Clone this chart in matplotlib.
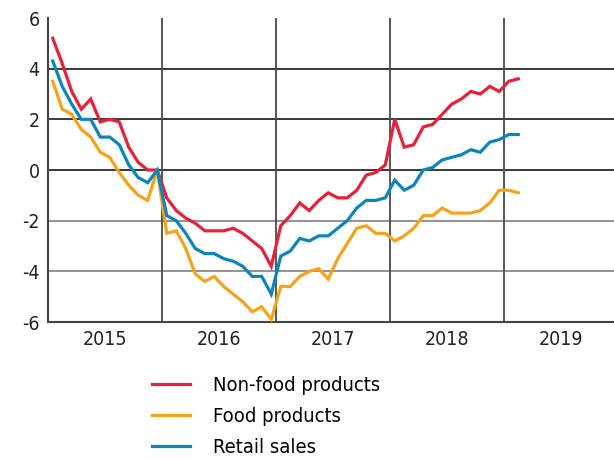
import numpy as np
import matplotlib
matplotlib.use("Agg")
import matplotlib.pyplot as plt

# Monthly data, Jan 2015 - Feb 2019 (annual % change)
years = ['2015', '2016', '2017', '2018', '2019']

non_food = [5.2, 4.2, 3.1, 2.4, 2.8, 1.9, 2.0, 1.9, 0.9, 0.3, 0.0, 0.0,
            -1.1, -1.6, -1.9, -2.1, -2.4, -2.4, -2.4, -2.3, -2.5, -2.8, -3.1, -3.8,
            -2.2, -1.8, -1.3, -1.6, -1.2, -0.9, -1.1, -1.1, -0.8, -0.2, -0.1, 0.2,
            2.0, 0.9, 1.0, 1.7, 1.8, 2.2, 2.6, 2.8, 3.1, 3.0, 3.3, 3.1,
            3.5, 3.6]

food = [3.5, 2.4, 2.2, 1.6, 1.3, 0.7, 0.5, -0.1, -0.6, -1.0, -1.2, 0.0,
        -2.5, -2.4, -3.1, -4.1, -4.4, -4.2, -4.6, -4.9, -5.2, -5.6, -5.4, -5.9,
        -4.6, -4.6, -4.2, -4.0, -3.9, -4.3, -3.5, -2.9, -2.3, -2.2, -2.5, -2.5,
        -2.8, -2.6, -2.3, -1.8, -1.8, -1.5, -1.7, -1.7, -1.7, -1.6, -1.3, -0.8,
        -0.8, -0.9]

retail = [4.3, 3.3, 2.6, 2.0, 2.0, 1.3, 1.3, 1.0, 0.2, -0.3, -0.5, 0.0,
          -1.8, -2.0, -2.5, -3.1, -3.3, -3.3, -3.5, -3.6, -3.8, -4.2, -4.2, -4.9,
          -3.4, -3.2, -2.7, -2.8, -2.6, -2.6, -2.3, -2.0, -1.5, -1.2, -1.2, -1.1,
          -0.4, -0.8, -0.6, 0.0, 0.1, 0.4, 0.5, 0.6, 0.8, 0.7, 1.1, 1.2,
          1.4, 1.4]

labels = ['Non-food products', 'Food products', 'Retail sales']
colors = ['#e8203a', '#f7a21b', '#0a86bb']

# narrow look, if a condensed face is around
plt.rcParams['font.family'] = ['DejaVu Sans']
plt.rcParams['font.stretch'] = 'condensed'

W, H = 614, 459
fig = plt.figure(figsize=(W / 100, H / 100), dpi=100)
ax = fig.add_axes([48 / W, 1 - 322 / H, 570 / W, 304 / H])

# months placed at the middle of each monthly slot
x = np.arange(len(non_food)) + 0.5

# grid first, lines on top
for v in [-4, -2]:
    ax.axhline(v, color='#8a8a8a', lw=1.3, zorder=1)
for v in [0, 2, 4]:
    ax.axhline(v, color='#2a2a2a', lw=1.3, zorder=1)
for i in range(1, len(years)):
    ax.axvline(12 * i, color='#4a4a4a', lw=1.3, zorder=1)

for series, lab, col in zip([non_food, food, retail], labels, colors):
    ax.plot(x, series, color=col, lw=2.3, label=lab, zorder=3,
            solid_joinstyle='miter')

ax.set_xlim(0, 12 * len(years))
ax.set_ylim(-6, 6)
ax.set_yticks([-6, -4, -2, 0, 2, 4, 6])
ax.set_yticklabels(['-6', '-4', '-2', '0', '2', '4', '6'], fontsize=14)
ax.set_xticks([12 * i + 6 for i in range(len(years))])
ax.set_xticklabels(years, fontsize=14)
ax.tick_params(length=0, pad=6, colors='#222222')

for side in ['top', 'right']:
    ax.spines[side].set_visible(False)
for side in ['left', 'bottom']:
    ax.spines[side].set_color('#444444')
    ax.spines[side].set_linewidth(1.5)

fig.legend(loc='upper left', bbox_to_anchor=(152 / W, 1 - 376 / H),
           frameon=False, fontsize=14.5, handlelength=1.9, handletextpad=1.15,
           labelspacing=0.6, borderaxespad=0, borderpad=0)

fig.savefig('out.png', dpi=100)
